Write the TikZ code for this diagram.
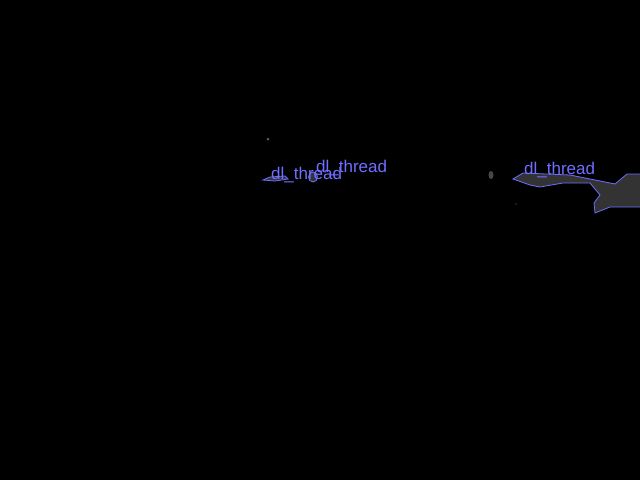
\documentclass[tikz,border=0pt]{standalone}
\usepackage{fontspec}
\setmainfont{Liberation Sans}
\begin{document}
\begin{tikzpicture}[x=1pt,y=-1pt,
  lbl/.style={text=linec,font=\fontsize{17}{17}\selectfont,inner sep=0pt,anchor=base west},
  blob/.style={fill=fillc,draw=linec,line width=0.8pt}]
\definecolor{linec}{RGB}{110,110,255}
\definecolor{fillc}{RGB}{51,51,51}
\fill[black] (0,0) rectangle (640,480);
\useasboundingbox (0,0) rectangle (640,480);
% small marks
\fill[fillc!80] (268,139) circle (1.5);
\fill[fillc!90] (491,175) ellipse (2.5 and 4);
\fill[fillc] (516,204) circle (0.8);
% flat shape
\draw[blob] (263,180) -- (270,177) -- (285,176) -- (288,179) -- (275,181) -- cycle;
% small blob
\draw[blob] (313,177) ellipse (4.5 and 5);
% large shape
\draw[blob] (513,179) -- (523,173) -- (570,175) -- (615,184) -- (627,174) -- (641,174)
  -- (641,207) -- (610,207) -- (595,213) -- (594,203) -- (600,195) -- (590,183)
  -- (563,183) -- (540,187) -- (530,185) -- cycle;
% labels
\node[lbl] (t1) at (271,179) {dl\_thread};
\node[lbl] (t2) at (316,172) {dl\_thread};
\node[lbl] (t3) at (524,174) {dl\_thread};
\end{tikzpicture}
\end{document}
